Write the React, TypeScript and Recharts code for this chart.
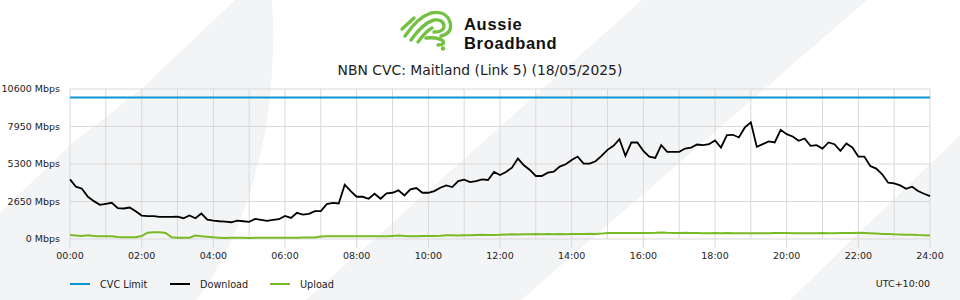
import React from 'react';
import { LineChart, Line, XAxis, YAxis, CartesianGrid } from 'recharts';

// Sampling step in minutes (one sample every 10 minutes, 00:00 .. 24:00)
const STEP_MIN = 10;

const DOWNLOAD: number[] = [
  4215, 3694, 3552, 2984, 2676, 2415,
  2486, 2557, 2179, 2155, 2226, 1965,
  1658, 1610, 1610, 1563, 1563, 1563,
  1587, 1468, 1658, 1468, 1800, 1373,
  1302, 1255, 1231, 1184, 1302, 1255,
  1208, 1421, 1350, 1279, 1350, 1397,
  1634, 1492, 1847, 1729, 1776, 1965,
  1965, 2463, 2557, 2510, 3836, 3386,
  2984, 2984, 2842, 3197, 2842, 3220,
  3268, 3434, 3078, 3505, 3599, 3268,
  3268, 3386, 3623, 3789, 3670, 4097,
  4191, 4026, 4097, 4215, 4168, 4736,
  4523, 4736, 5044, 5683, 5210, 4878,
  4452, 4452, 4689, 4760, 5115, 5281,
  5588, 5825, 5328, 5328, 5494, 5873,
  6299, 6583, 7057, 5873, 6820, 6820,
  6228, 5825, 5731, 6630, 6157, 6157,
  6157, 6394, 6465, 6678, 6630, 6701,
  6962, 6465, 7341, 7364, 7175, 7885,
  8241, 6512, 6701, 6891, 6820, 7720,
  7412, 7246, 6938, 7104, 6583, 6630,
  6394, 6820, 6701, 6228, 6749, 6465,
  5825, 5825, 5162, 4973, 4570, 3978,
  3931, 3789, 3552, 3694, 3386, 3197,
  3031,
];

const UPLOAD: number[] = [
  284, 240, 215, 260, 215, 190,
  190, 190, 140, 120, 120, 120,
  210, 450, 470, 470, 420, 120,
  95, 95, 95, 240, 190, 165,
  120, 95, 70, 95, 95, 95,
  70, 95, 95, 95, 95, 95,
  95, 95, 95, 100, 100, 100,
  180, 190, 190, 190, 190, 190,
  190, 190, 190, 200, 200, 200,
  220, 240, 220, 200, 200, 210,
  210, 210, 230, 260, 260, 250,
  260, 270, 290, 300, 290, 290,
  300, 320, 330, 310, 340, 330,
  350, 340, 350, 330, 350, 340,
  350, 360, 350, 370, 360, 380,
  420, 420, 430, 420, 420, 430,
  420, 430, 440, 460, 440, 430,
  430, 440, 420, 420, 410, 410,
  420, 410, 420, 400, 400, 410,
  400, 410, 400, 400, 420, 420,
  420, 410, 410, 400, 400, 410,
  420, 410, 410, 420, 420, 430,
  440, 420, 400, 380, 360, 350,
  330, 320, 300, 300, 280, 270,
  240,
];

const CVC_LIMIT = 10000;

const X_TICKS = [0, 120, 240, 360, 480, 600, 720, 840, 960, 1080, 1200, 1320, 1440];
const X_TICK_LABELS = ['00:00', '02:00', '04:00', '06:00', '08:00', '10:00', '12:00', '14:00', '16:00', '18:00', '20:00', '22:00', '24:00'];
const Y_TICKS = [0, 2650, 5300, 7950, 10600];

const SERIES_NAMES = ['CVC Limit', 'Download', 'Upload'];
const COLORS = { cvc: '#0a96d6', download: '#000000', upload: '#78bb24' };

const data = DOWNLOAD.map((d, i) => ({
  t: i * STEP_MIN,
  download: d,
  upload: UPLOAD[i],
  cvc: CVC_LIMIT,
}));

const FONT = '"DejaVu Sans", sans-serif';
const LOGO_FONT = '"Liberation Sans", Arial, sans-serif';
const GRID = '#d9d9d9';
const BG_GRAY = '#f3f4f6';

const YTick = (props: any) => {
  const { x, y, payload } = props;
  return (
    <text x={x} y={y} dy={3.3} textAnchor="end" fontFamily={FONT} fontSize={9.5} fill="#222">
      {`${payload.value} Mbps`}
    </text>
  );
};

const XTick = (props: any) => {
  const { x, y, payload } = props;
  return (
    <text x={x} y={y} dy={7.2} textAnchor="middle" fontFamily={FONT} fontSize={9.5} fill="#222">
      {X_TICK_LABELS[X_TICKS.indexOf(payload.value)] ?? ''}
    </text>
  );
};

export default function App() {
  return (
    <div style={{ position: 'absolute', left: 0, top: 0, width: 960, height: 300, background: '#ffffff', overflow: 'hidden' }}>
      {/* Decorative background shapes */}
      <svg width={960} height={300} style={{ position: 'absolute', left: 0, top: 0 }}>
        <path d="M0,300 L0,213 L70,145 L140,90 L235,0 L272,0 C276,60 270,130 252,185 C238,232 220,270 196,300 Z" fill={BG_GRAY} />
        <path d="M306,300 L642,0 L867,0 L521,300 Z" fill={BG_GRAY} />
        <path d="M790,300 L960,135 L960,300 Z" fill={BG_GRAY} />
      </svg>

      {/* Header: logo + title */}
      <svg width={960} height={90} style={{ position: 'absolute', left: 0, top: 0 }}>
        <g fill="none" stroke="#74c043" strokeWidth={3.4} strokeLinecap="round" strokeLinejoin="round">
          <path d="M402,29 L414,18" />
          <path d="M405,36 Q418,17 431,13 Q446,10 450,22 Q453,33 441,36" />
          <path d="M411,40 Q423,23 434,20 Q444,19 444,27 Q443,32 434,32" />
          <path d="M418,42 Q426,31 432,28" />
          <path d="M426,38 Q439,37 443,41 Q445,45 438,45" />
        </g>
        <circle cx={443} cy={48.5} r={2.2} fill="#74c043" />
        <text x={464} y={30.3} fontFamily={LOGO_FONT} fontWeight={700} fontSize={16.5} letterSpacing={0.7} fill="#111">Aussie</text>
        <text x={464} y={48.8} fontFamily={LOGO_FONT} fontWeight={700} fontSize={16.5} letterSpacing={0.7} fill="#111">Broadband</text>
        <text x={480} y={75} textAnchor="middle" fontFamily={FONT} fontSize={13.9} fill="#222">NBN CVC: Maitland (Link 5) (18/05/2025)</text>
      </svg>

      <div style={{ position: 'absolute', left: 0, top: 0 }}>
        <LineChart width={960} height={300} data={data} margin={{ top: 89, right: 30, bottom: 31, left: 0 }}>
          <CartesianGrid
            stroke={GRID}
            strokeWidth={1}
            verticalCoordinatesGenerator={(props: any) => {
              const off = props.offset;
              const pts: number[] = [];
              for (let h = 0; h <= 24; h++) pts.push(off.left + (h * off.width) / 24);
              return pts;
            }}
          />
          <XAxis
            dataKey="t"
            type="number"
            domain={[0, 1440]}
            ticks={X_TICKS}
            interval={0}
            axisLine={false}
            tickLine={{ stroke: GRID }}
            tickSize={9}
            tickMargin={4}
            height={30}
            tick={<XTick />}
          />
          <YAxis
            type="number"
            domain={[0, 10600]}
            ticks={Y_TICKS}
            interval={0}
            width={70}
            axisLine={false}
            tickLine={false}
            tickSize={0}
            tickMargin={10}
            tick={<YTick />}
          />
          <Line type="linear" dataKey="cvc" name={SERIES_NAMES[0]} stroke={COLORS.cvc} strokeWidth={2} dot={false} isAnimationActive={false} />
          <Line type="linear" dataKey="download" name={SERIES_NAMES[1]} stroke={COLORS.download} strokeWidth={1.8} dot={false} isAnimationActive={false} />
          <Line type="linear" dataKey="upload" name={SERIES_NAMES[2]} stroke={COLORS.upload} strokeWidth={2} dot={false} isAnimationActive={false} />
        </LineChart>
      </div>

      {/* Legend + timezone */}
      <svg width={960} height={300} style={{ position: 'absolute', left: 0, top: 0, pointerEvents: 'none' }}>
        {[COLORS.cvc, COLORS.download, COLORS.upload].map((c, i) => (
          <g key={i}>
            <line x1={70 + i * 100} x2={90 + i * 100} y1={284} y2={284} stroke={c} strokeWidth={2} />
            <text x={100 + i * 100} y={287.5} fontFamily={FONT} fontSize={9.7} fill="#222">{SERIES_NAMES[i]}</text>
          </g>
        ))}
        <text x={930} y={287} textAnchor="end" fontFamily={FONT} fontSize={9.5} fill="#222">UTC+10:00</text>
      </svg>
    </div>
  );
}
